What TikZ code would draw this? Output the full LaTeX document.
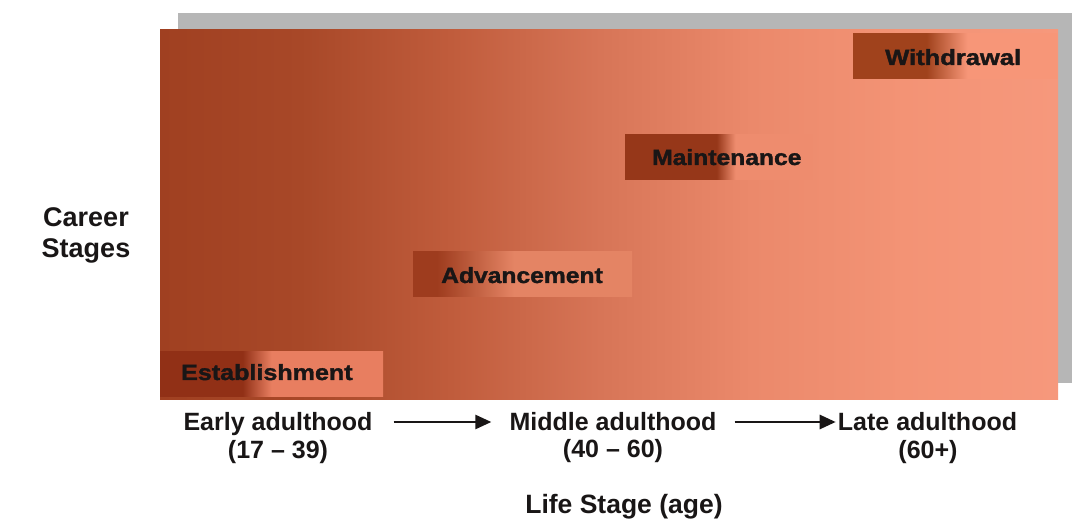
\documentclass[tikz,border=0pt]{standalone}
\usepackage{fontspec}
\setmainfont{Liberation Sans}
\newfontfamily\heavyfont{Liberation Sans}[BoldFeatures={FakeBold=1.5}]
\usepackage{graphicx}
\usetikzlibrary{arrows.meta}

\definecolor{m0}{RGB}{160,64,33}
\definecolor{m1}{RGB}{168,72,40}
\definecolor{m2}{RGB}{192,92,60}
\definecolor{m3}{RGB}{215,117,87}
\definecolor{m4}{RGB}{235,137,107}
\definecolor{m5}{RGB}{243,147,117}
\definecolor{m6}{RGB}{246,152,124}
\definecolor{shadowgray}{RGB}{182,182,182}
\definecolor{inkc}{RGB}{25,22,22}

\definecolor{esD}{RGB}{145,48,22}
\definecolor{esL}{RGB}{232,126,96}
\definecolor{adD}{RGB}{158,60,30}
\definecolor{adL}{RGB}{228,132,100}
\definecolor{maD}{RGB}{150,55,25}
\definecolor{maL}{RGB}{238,140,110}
\definecolor{wiD}{RGB}{160,66,28}
\definecolor{wiL}{RGB}{247,150,120}

\pgfdeclarehorizontalshading{mainshade}{100bp}{color(0bp)=(m0); color(25bp)=(m0); color(32.8bp)=(m1); color(41.2bp)=(m2); color(49.5bp)=(m3); color(57.9bp)=(m4); color(66.3bp)=(m5); color(75bp)=(m6); color(100bp)=(m6)}
\pgfdeclarehorizontalshading{estabshade}{100bp}{color(0bp)=(esD); color(25bp)=(esD); color(43.5bp)=(esD); color(50bp)=(esL); color(75bp)=(esL); color(100bp)=(esL)}
\pgfdeclarehorizontalshading{advshade}{100bp}{color(0bp)=(adD); color(25bp)=(adD); color(30.5bp)=(adD); color(48bp)=(adL); color(75bp)=(adL); color(100bp)=(adL)}
\pgfdeclarehorizontalshading{maintshade}{100bp}{color(0bp)=(maD); color(25bp)=(maD); color(49.5bp)=(maD); color(54.5bp)=(maL); color(75bp)=(maL); color(100bp)=(maL)}
\pgfdeclarehorizontalshading{withshade}{100bp}{color(0bp)=(wiD); color(25bp)=(wiD); color(43bp)=(wiD); color(53bp)=(wiL); color(75bp)=(wiL); color(100bp)=(wiL)}

\begin{document}
\begin{tikzpicture}[x=1pt,y=-1pt,
  stagebox/.style={inner sep=0pt, outer sep=0pt, anchor=north west},
  stagelabel/.style={inner sep=0pt, anchor=base west, text=inkc,
    font=\fontsize{22}{26}\heavyfont\bfseries},
  axislabel/.style={inner sep=0pt, anchor=base, text=inkc,
    text height=18pt, text depth=0pt,
    font=\fontsize{25}{30}\selectfont\bfseries},
  titlelabel/.style={inner sep=0pt, anchor=base, text=inkc,
    font=\fontsize{27}{32}\selectfont\bfseries},
  flow/.style={draw=inkc, line width=2.6pt, -{Triangle[length=16pt,width=14pt]}}
]
\useasboundingbox (0,0) rectangle (1077,521);
\fill[white] (0,0) rectangle (1077,521);

% shadow and main panel
\fill[shadowgray] (178,13) rectangle (1072,383);
\path[shading=mainshade] (160,30) rectangle (1058,400);

% stage boxes
\node[stagebox, shading=estabshade, minimum width=223pt, minimum height=45pt] (estabbox) at (160,352) {};
\node[stagebox, shading=advshade, minimum width=219pt, minimum height=45pt] (advbox) at (413,252) {};
\node[stagebox, shading=maintshade, minimum width=187pt, minimum height=45pt] (maintbox) at (625,135) {};
\node[stagebox, shading=withshade, minimum width=204pt, minimum height=45pt] (withbox) at (853,34) {};

% stage labels
\node[stagelabel] (estab) at (181,380) {\scalebox{1.14}[1]{Establishment}};
\node[stagelabel] (adv) at (441,283) {\scalebox{1.12}[1]{Advancement}};
\node[stagelabel] (maint) at (652,165) {\scalebox{1.12}[1]{Maintenance}};
\node[stagelabel] (withd) at (885,65) {\scalebox{1.16}[1]{Withdrawal}};

% y axis title
\node[titlelabel] (career) at (86,227) {Career};
\node[titlelabel] (stages) at (86,258) {Stages};

% life stages
\node[axislabel] (early) at (278,431) {Early adulthood};
\node[axislabel] (earlyage) at (278,458) {(17 -- 39)};
\node[axislabel] (middle) at (613,431) {Middle adulthood};
\node[axislabel] (middleage) at (613,457) {(40 -- 60)};
\node[axislabel] (late) at (927.5,431) {Late adulthood};
\node[axislabel] (lateage) at (928,458) {(60+)};

\draw[flow, shorten <=21pt, shorten >=18pt] (early.east) -- (middle.west);
\draw[flow, shorten <=18pt, shorten >=2pt] (middle.east) -- (late.west);

% x axis title
\node[titlelabel, font=\fontsize{26.5}{32}\selectfont\bfseries] (life) at (624,513) {Life Stage (age)};
\end{tikzpicture}
\end{document}
